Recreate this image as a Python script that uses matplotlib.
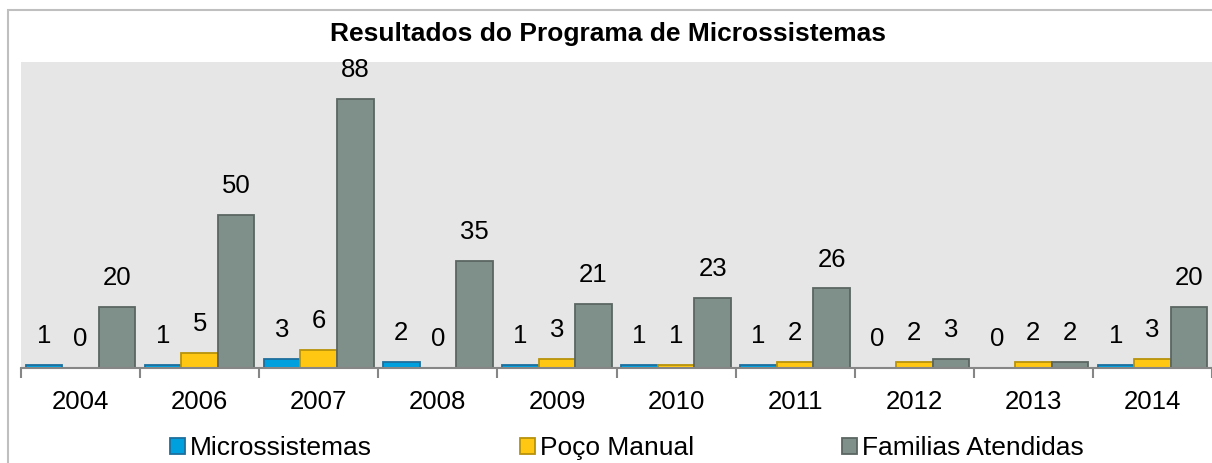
import matplotlib.pyplot as plt
import numpy as np
from matplotlib.patches import Rectangle

plt.rcParams['font.family'] = ['Liberation Sans', 'DejaVu Sans']

# dados do gráfico
anos = ['2004', '2006', '2007', '2008', '2009', '2010', '2011', '2012', '2013', '2014']
microssistemas = [1, 1, 3, 2, 1, 1, 1, 0, 0, 1]
poco_manual = [0, 5, 6, 0, 3, 1, 2, 2, 2, 3]
familias = [20, 50, 88, 35, 21, 23, 26, 3, 2, 20]

series = [
    ('Microssistemas', microssistemas, '#00a0de', '#1d6f9c'),
    ('Poço Manual', poco_manual, '#ffc712', '#b8920a'),
    ('Familias Atendidas', familias, '#7f8f8a', '#5b6662'),
]

W, H = 1212, 463
fig = plt.figure(figsize=(W / 100, H / 100), dpi=100)

# moldura cinza do gráfico
fig.patches.append(Rectangle((8 / W, -0.1), 1.1, 1 - 10 / H + 0.1, transform=fig.transFigure,
                             fill=False, edgecolor='#bfbfbf', linewidth=1.5))

ax = fig.add_axes([21 / W, 1 - 368 / H, 1 - 21 / W, (368 - 62) / H])
ax.set_facecolor('#e6e6e6')

x = np.arange(len(anos))
largura = 0.307
for i, (nome, vals, cor, borda) in enumerate(series):
    barras = ax.bar(x + (i - 1) * largura, vals, largura, color=cor, edgecolor=borda,
                    linewidth=1.3, label=nome)
    for xb, v in zip(x + (i - 1) * largura, vals):
        ax.annotate(str(v), (xb, v), xytext=(0, 12), textcoords='offset points',
                    ha='center', va='bottom', fontsize=18.5)

ax.set_xlim(-0.5, len(anos) - 0.5)
ax.set_ylim(0, 100)
ax.set_yticks([])
for s in ['top', 'left', 'right']:
    ax.spines[s].set_visible(False)
ax.spines['bottom'].set_color('#868686')
ax.spines['bottom'].set_linewidth(1.5)

# marcas entre categorias e rótulos no centro
ax.set_xticks(np.arange(len(anos) + 1) - 0.5)
ax.set_xticklabels([])
ax.tick_params(axis='x', which='major', length=7, width=1.5, color='#868686')
ax.set_xticks(x, minor=True)
ax.set_xticklabels(anos, minor=True, fontsize=18.5)
ax.tick_params(axis='x', which='minor', length=0, pad=16)

fig.text(608 / W, 1 - 34 / H, 'Resultados do Programa de Microssistemas',
         ha='center', va='center', fontsize=19, fontweight='bold')

fig.legend(loc='center', bbox_to_anchor=(627 / W, 1 - 448 / H), ncol=3, frameon=False,
           fontsize=19, handlelength=0.57, handleheight=0.57, handletextpad=0.2,
           columnspacing=5.6)

fig.savefig('out.png', dpi=100)
